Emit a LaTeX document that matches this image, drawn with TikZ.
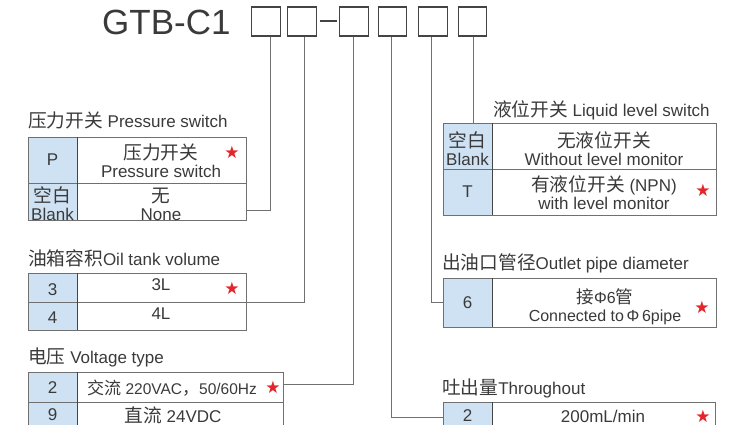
\documentclass[tikz,border=0pt]{standalone}
\usepackage{fontspec}
\setmainfont{Liberation Sans}
\newfontfamily\cjk[Scale=1.1]{Noto Sans CJK SC}
\newfontfamily\symf{DejaVu Sans}
\definecolor{txtc}{HTML}{3A3A3A}
\definecolor{linec}{HTML}{707070}
\definecolor{darkc}{HTML}{444444}
\definecolor{keyblue}{HTML}{CFE2F3}
\definecolor{starred}{HTML}{E3262B}
\newcommand\zh[1]{{\cjk #1}}
\tikzset{
  codebox/.style={draw=darkc, line width=1.3pt, fill=white, minimum width=28.5pt, minimum height=29pt, inner sep=0pt},
  tcell/.style={draw=linec, line width=0.9pt, anchor=north west, inner sep=0pt, outer sep=0pt},
  keycell/.style={tcell, fill=keyblue},
  txt/.style={text=txtc, inner sep=0pt, font=\fontsize{17}{18}\selectfont, align=center},
  ttl/.style={txt, anchor=west},
  starmark/.style={text=starred, inner sep=0pt, font=\symf\fontsize{17}{17}\selectfont},
  conn/.style={draw=linec, line width=0.9pt},
  splitline/.style={draw=darkc, line width=1pt},
}
\begin{document}
\begin{tikzpicture}[x=1pt,y=-1pt]
\useasboundingbox (0,0) rectangle (732,424);
\clip (0,0) rectangle (732,424);
\fill[white] (0,0) rectangle (732,424);

% ---------- header ----------
\node[text=txtc, font=\fontsize{35}{35}\selectfont, anchor=west, inner sep=0pt] (title) at (102,22) {GTB-C1};
\node[codebox] (b1) at (266,21.5) {};
\node[codebox] (b2) at (302,21.5) {};
\draw[darkc, line width=2.6pt] (b2.east |- 0,21) ++(3,0) -- ++(17,0);
\node[codebox] (b3) at (354,21.5) {};
\node[codebox] (b4) at (392.5,21.5) {};
\node[codebox] (b5) at (433,21.5) {};
\node[codebox] (b6) at (472.5,21.5) {};

% ---------- pressure switch ----------
\node[ttl] (pt) at (28,120) {\zh{压力开关} Pressure switch};
\node[keycell, minimum width=49pt, minimum height=46pt] (pk1) at (28,137) {};
\node[tcell, minimum width=169pt, minimum height=46pt] (pv1) at (77,137) {};
\node[keycell, minimum width=49pt, minimum height=37pt] (pk2) at (28,183) {};
\node[tcell, minimum width=169pt, minimum height=37pt] (pv2) at (77,183) {};
\draw[splitline] (pk1.north east) -- (pk2.south east);
\node[txt] (pk1t) at (52.5,160) {P};
\node[txt] (pv1t) at (161,161) {\zh{压力开关}\\Pressure switch};
\node[starmark] (ps) at (232,152) {★};
\node[txt] (pk2t) at (52.5,204) {\zh{空白}\\Blank};
\node[txt] (pv2t) at (161,204) {\zh{无}\\None};

% ---------- oil tank ----------
\node[ttl] (ot) at (28,258) {\zh{油箱容积}Oil tank volume};
\node[keycell, minimum width=49pt, minimum height=29pt] (ok1) at (28,273) {};
\node[tcell, minimum width=169pt, minimum height=29pt] (ov1) at (77,273) {};
\node[keycell, minimum width=49pt, minimum height=28pt] (ok2) at (28,302) {};
\node[tcell, minimum width=169pt, minimum height=28pt] (ov2) at (77,302) {};
\draw[splitline] (ok1.north east) -- (ok2.south east);
\node[txt] (ok1t) at (52.5,290) {3};
\node[txt] (ov1t) at (161,285) {3L};
\node[starmark] (os) at (232,288) {★};
\node[txt] (ok2t) at (52.5,318) {4};
\node[txt] (ov2t) at (161,314) {4L};

% ---------- voltage ----------
\node[ttl] (vt) at (28,357) {\zh{电压} Voltage type};
\node[keycell, minimum width=49pt, minimum height=30pt] (vk1) at (28,372) {};
\node[tcell, minimum width=206pt, minimum height=30pt] (vv1) at (77,372) {};
\node[keycell, minimum width=49pt, minimum height=30pt] (vk2) at (28,402) {};
\node[tcell, minimum width=206pt, minimum height=30pt] (vv2) at (77,402) {};
\draw[splitline] (vk1.north east) -- (vk2.south east);
\node[txt] (vk1t) at (52.5,388) {2};
\node[txt, font=\fontsize{15.5}{18}\selectfont] (vv1t) at (172,388) {\zh{交流} 220VAC\zh{，}50/60Hz};
\node[starmark] (vs) at (273,387) {★};
\node[txt] (vk2t) at (52.5,415) {9};
\node[txt] (vv2t) at (173,415) {\zh{直流} 24VDC};

% ---------- liquid level ----------
\node[ttl] (lt) at (493,110) {\zh{液位开关} Liquid level switch};
\node[keycell, minimum width=49pt, minimum height=46pt] (lk1) at (443,123) {};
\node[tcell, minimum width=224pt, minimum height=46pt] (lv1) at (492,123) {};
\node[keycell, minimum width=49pt, minimum height=46pt] (lk2) at (443,169) {};
\node[tcell, minimum width=224pt, minimum height=46pt] (lv2) at (492,169) {};
\draw[splitline] (lk1.north east) -- (lk2.south east);
\node[txt] (lk1t) at (467.5,149) {\zh{空白}\\Blank};
\node[txt] (lv1t) at (604,149) {\zh{无液位开关}\\Without level monitor};
\node[txt] (lk2t) at (467.5,192) {T};
\node[txt] (lv2t) at (604,193) {\zh{有液位开关} (NPN)\\with level monitor};
\node[starmark] (ls) at (703,190) {★};

% ---------- outlet ----------
\node[ttl] (dt) at (442,263) {\zh{出油口管径}Outlet pipe diameter};
\node[keycell, minimum width=49pt, minimum height=49pt] (dk1) at (443,278) {};
\node[tcell, minimum width=224pt, minimum height=49pt] (dv1) at (492,278) {};
\draw[splitline] (dk1.north east) -- (dk1.south east);
\node[txt] (dk1t) at (467.5,303) {6};
\node[txt, font=\fontsize{16}{18}\selectfont] (dv1t) at (605,307) {\zh{接}Φ6\zh{管}\\Connected to\,Φ\,6pipe};
\node[starmark] (ds) at (702,307) {★};

% ---------- throughout ----------
\node[ttl] (tt) at (442,388) {\zh{吐出量}Throughout};
\node[keycell, minimum width=49pt, minimum height=30pt] (tk1) at (443,402) {};
\node[tcell, minimum width=223pt, minimum height=30pt] (tv1) at (492,402) {};
\draw[splitline] (tk1.north east) -- (tk1.south east);
\node[txt] (tk1t) at (467.5,416) {2};
\node[txt] (tv1t) at (603,416) {200mL/min};
\node[starmark] (ts) at (703,416) {★};

% ---------- connectors ----------
\coordinate (j1) at (246,210);
\coordinate (j2) at (246,302);
\coordinate (j3) at (283,384);
\coordinate (j4) at (443,417);
\coordinate (j5) at (443,302);
\draw[conn] ([xshift=4pt]b1.south) |- (j1);
\draw[conn] ([xshift=2pt]b2.south) |- (j2);
\draw[conn] ([xshift=-0.7pt]b3.south) |- (j3);
\draw[conn] ([xshift=-0.8pt]b4.south) |- (j4);
\draw[conn] ([xshift=-1.3pt]b5.south) |- (j5);
\draw[conn] ([xshift=0.8pt]b6.south) -- ([xshift=0.8pt]b6.south |- lv1.north);
\end{tikzpicture}
\end{document}
